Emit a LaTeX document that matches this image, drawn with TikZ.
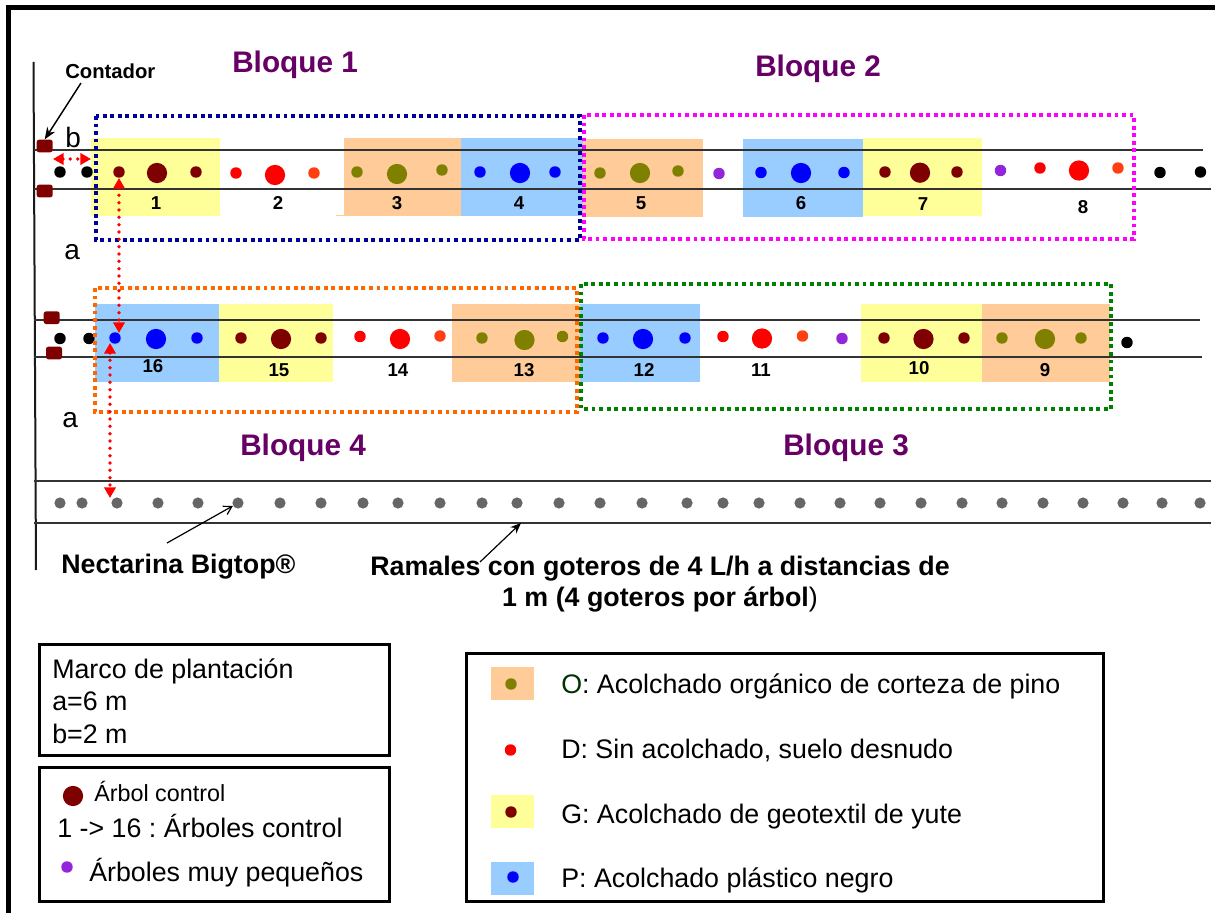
\documentclass[tikz,border=0pt]{standalone}
\usepackage{fontspec}
\setmainfont{Liberation Sans}
\usetikzlibrary{arrows.meta}
\definecolor{cK}{HTML}{000000}
\definecolor{cG}{HTML}{7F0000}
\definecolor{cR}{HTML}{FF0000}
\definecolor{cY}{HTML}{FF3F0F}
\definecolor{cO}{HTML}{808000}
\definecolor{cB}{HTML}{0000FF}
\definecolor{cV}{HTML}{9326D9}
\definecolor{cA}{HTML}{666666}
\definecolor{pY}{HTML}{FFFF99}
\definecolor{pO}{HTML}{FFCC99}
\definecolor{pB}{HTML}{99CCFF}
\definecolor{plum}{HTML}{660066}
\definecolor{dk}{HTML}{003300}
\definecolor{bxB}{HTML}{000099}
\definecolor{bxM}{HTML}{FF00FF}
\definecolor{bxO}{HTML}{FF6600}
\definecolor{bxG}{HTML}{008000}
\frenchspacing
\tikzset{
 x=0.75pt,y=-0.75pt,
 sm/.style={circle,inner sep=0pt,minimum size=8.6pt},
 lg/.style={circle,inner sep=0pt,minimum size=15.2pt},
 gr/.style={circle,inner sep=0pt,minimum size=8.4pt,fill=cA},
 rail/.style={draw=black!80,line width=1.1pt},
 blockbox/.style={line width=2.6pt,dash pattern=on 2.9pt off 2.75pt},
 meter/.style={rectangle,rounded corners=1.8pt,fill=cG,draw=none,inner sep=0pt,minimum width=12pt,minimum height=9.5pt},
 blocktitle/.style={anchor=base west,inner sep=0pt,text=plum,font=\bfseries\fontsize{22.3}{26}\selectfont},
 num/.style={anchor=base,inner sep=0pt,font=\bfseries\fontsize{14}{16}\selectfont},
 dim/.style={anchor=base west,inner sep=0pt,font=\fontsize{21}{25}\selectfont},
 txt/.style={anchor=base west,inner sep=0pt,font=\fontsize{20.1}{24}\selectfont},
 bold/.style={inner sep=0pt,font=\bfseries\fontsize{20.1}{23.2}\selectfont},
 redarrow/.style={draw=red,line width=2.8pt,line cap=round,dash pattern=on 0pt off 5.5pt,{Triangle[length=8pt,width=8.5pt]}-{Triangle[length=8pt,width=8.5pt]}},
 legendbox/.style={draw=black,line width=2.4pt,inner sep=0pt,fill=white},
}
\begin{document}
\begin{tikzpicture}
\useasboundingbox (0,0) rectangle (1215,913);
\fill[white] (0,0) rectangle (1215,913);
% frame
\fill[black] (6,5) rectangle (10.5,913);
\fill[black] (6,5) rectangle (1215,10);
% patches
\foreach \a/\b/\c/\d/\e in {
 91/138/220/216/pY, 344/138/461/216/pO, 461/138/583/216/pB, 583/139/703/217/pO,
 743/139/863/217/pB, 863/138/982/216/pY,
 95/304/219/382/pB, 219/304/333/382/pY, 452/304/580/382/pO, 580/304/700/382/pB,
 861/304/982/382/pY, 982/304/1110/382/pO}{
 \fill[\e] (\a,\b) rectangle (\c,\d);
}
\fill[pO] (336,215) rectangle (344,216);
% rails
\draw[line width=1.5pt,black!90] (33.5,62) -- (36,570);
\draw[rail] (34,150) -- (1203,150);
\draw[rail] (34,189) -- (1211,189);
\draw[rail] (34,320) -- (1200,320);
\draw[rail] (34,357) -- (1202,357);
\draw[rail] (34,481) -- (1211,481);
\draw[rail] (34,523) -- (1211,523);
% meters
\node[meter] (m1) at (44.7,146) {};
\node[meter] (m2) at (44.7,191) {};
\node[meter] (m3) at (51.7,317.7) {};
\node[meter] (m4) at (54,353) {};
% row 1 dots
\foreach \x/\y/\s/\t [count=\n] in {
 60/172/cK/sm,87/172/cK/sm,119/172/cG/sm,157/173/cG/lg,196/172/cG/sm,236/173/cR/sm,275/175/cR/lg,314/173/cY/sm,
 357/172/cO/sm,397/174/cO/lg,442/170/cO/sm,480/172/cB/sm,520/173/cB/lg,555/172/cB/sm,600/173/cO/sm,640/173/cO/lg,678/171/cO/sm,
 719/173.5/cV/sm,761/172.5/cB/sm,801/173/cB/lg,844/172.5/cB/sm,885/172/cG/sm,920/172.7/cG/lg,957/172/cG/sm,
 1000.5/170.5/cV/sm,1040/168/cR/sm,1079/170.5/cR/lg,1118/168/cY/sm,1160/172.5/cK/sm,1200.5/172/cK/sm}{
 \node[\t,fill=\s] (a\n) at (\x,\y) {};
}
% row 2 dots
\foreach \x/\y/\s/\t [count=\n] in {
 60/338.5/cK/sm,89/338.5/cK/sm,115/338/cB/sm,156/339/cB/lg,197/338/cB/sm,241/338/cG/sm,281/339/cG/lg,321/338/cG/sm,
 360/336.5/cR/sm,400/339/cR/lg,440/336/cY/sm,482/338/cO/sm,524.5/340/cO/lg,562.5/336.5/cO/sm,603/338/cB/sm,643/339/cB/lg,685/338/cB/sm,
 723/336.5/cR/sm,762/338.5/cR/lg,802.5/336/cY/sm,842/338.5/cV/sm,884/338/cG/sm,923.5/339/cG/lg,964/338/cG/sm,
 1002/338/cO/sm,1045/339/cO/lg,1081/338/cO/sm,1127/342.5/cK/sm}{
 \node[\t,fill=\s] (b\n) at (\x,\y) {};
}
% row 3 dots
\foreach \x [count=\n] in {60,82,117,158,198,238,280,321,363,398,440,482,517,559,600,642,687,723,759,800,840,880,921,962,1002,1043,1083,1123,1162,1200}{
 \node[gr] (c\n) at (\x,503) {};
}
% block boxes
\draw[blockbox,draw=bxB] (96,116) rectangle (580,240);
\draw[blockbox,draw=bxM] (584,115) rectangle (1134,239);
\draw[blockbox,draw=bxO] (95,288) rectangle (577,412);
\draw[blockbox,draw=bxG] (581,284) rectangle (1111,409);
% titles
\node[blocktitle] (t1) at (232,72.5) {Bloque 1};
\node[blocktitle] (t2) at (755,77) {Bloque 2};
\node[blocktitle] (t4) at (240,455) {Bloque 4};
\node[blocktitle] (t3) at (783,455) {Bloque 3};
% numbers
\foreach \x/\y/\l in {156/210/1,278/210/2,397/210/3,519/210/4,641/210/5,801/210/6,923/211/7,1083/214/8,
 153/373/16,279/376/15,398/376/14,524/376/13,644/376/12,761/376/11,919/374/10,1045/376/9}{
 \node[num] (n\l) at (\x,\y) {\l};
}
\node[dim] (lb) at (65,147.5) {b};
\node[dim] (la1) at (64,260) {a};
\node[dim] (la2) at (62,427) {a};
% labels + arrows
\node[anchor=base west,inner sep=0pt,font=\bfseries\fontsize{15.2}{18}\selectfont] (cont) at (65,79) {Contador};
\coordinate (co1) at (81,83);
\draw[line width=1.1pt,-{Stealth[length=9pt,width=7pt]}] (co1) -- (m1.north);
\node[bold,anchor=base west] (nect) at (61,573) {Nectarina Bigtop®};
\coordinate (ne1) at (167,543);
\draw[line width=0.9pt,-{Straight Barb[length=6pt,width=7pt]}] (ne1) -- (c6);
\node[bold,align=center] (ram) at (660,584) {Ramales con goteros de 4 L/h a distancias de\\1 m (4 goteros por árbol{\mdseries)}};
\coordinate (ra1) at (480,562);
\coordinate (ra2) at (521,523);
\draw[line width=0.9pt,-{Stealth[length=8pt,width=6.5pt]}] (ra1) -- (ra2);
% red arrows
\coordinate (h1) at (53,159);\coordinate (h2) at (91,159);
\draw[redarrow] (h1) -- (h2);
\coordinate (v1) at (119,178);\coordinate (v2) at (119,333);
\draw[redarrow] (v1) -- (v2);
\coordinate (w1) at (110,343);\coordinate (w2) at (110,498);
\draw[redarrow] (w1) -- (w2);
% legend boxes
\node[legendbox,minimum width=263pt,minimum height=83.5pt] (bx1) at (214.5,700) {};
\node[inner sep=0pt,anchor=north west,align=left,font=\fontsize{20.1}{24.4}\selectfont] (marco) at (52,658) {Marco de plantación\\a=6 m\\b=2 m};
\node[legendbox,minimum width=263pt,minimum height=100.5pt] (bx2) at (214.5,834.5) {};
\node[lg,fill=cG] (ld1) at (73,796) {};
\node[anchor=base west,inner sep=0pt,font=\fontsize{17.5}{20}\selectfont] (ac) at (94,801) {Árbol control};
\node[txt] (ac2) at (57,837) {1 -> 16 : Árboles control};
\node[sm,fill=cV] (ld2) at (67,867) {};
\node[txt] (ap) at (89,881) {Árboles muy pequeños};
\node[legendbox,minimum width=477.5pt,minimum height=185.5pt] (bx3) at (785,777.5) {};
\fill[pO] (491,667) rectangle (534,700);
\fill[pY] (491,795) rectangle (534,828);
\fill[pB] (491,862) rectangle (534,895);
\node[sm,fill=cO] (l1) at (511,684) {};
\node[sm,fill=cR] (l2) at (510.5,750) {};
\node[sm,fill=cG] (l3) at (511,812) {};
\node[sm,fill=cB] (l4) at (513,877) {};
\node[txt] (o) at (561,693) {\textcolor{dk}{O}: Acolchado orgánico de corteza de pino};
\node[txt] (d) at (561,758) {D: Sin acolchado, suelo desnudo};
\node[txt] (g) at (561,823) {G: Acolchado de geotextil de yute};
\node[txt] (p) at (561,887) {P: Acolchado plástico negro};
\end{tikzpicture}
\end{document}
